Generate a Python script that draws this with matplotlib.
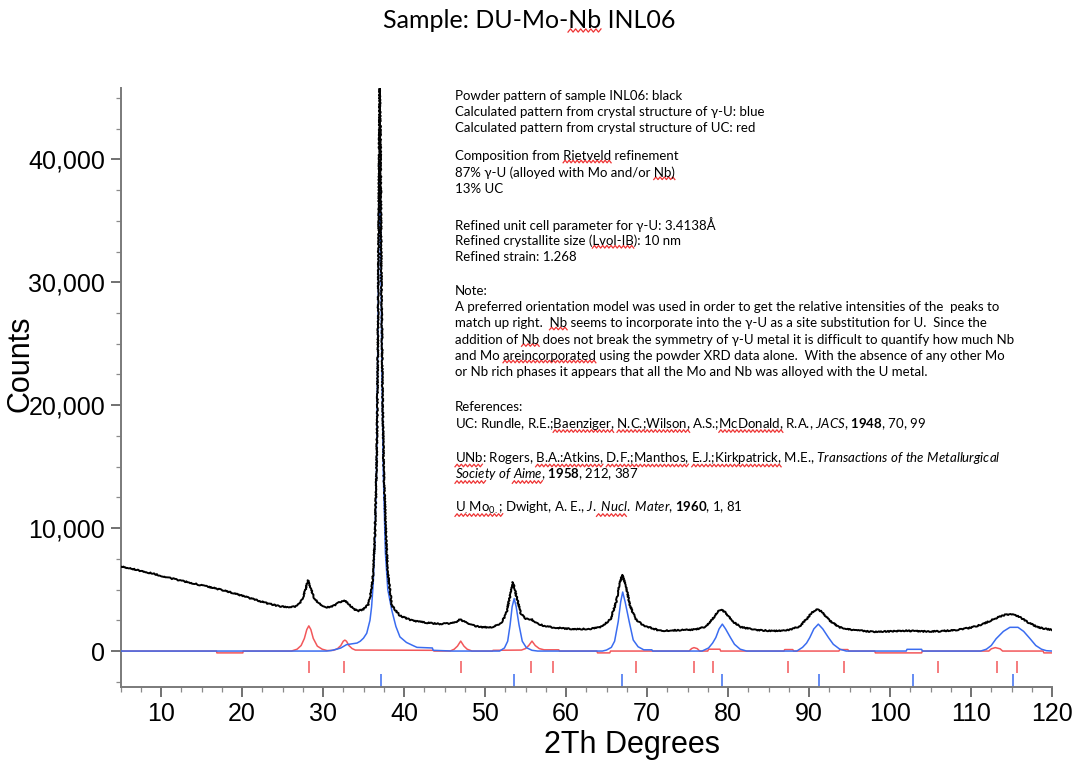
import numpy as np
import matplotlib
matplotlib.use("Agg")
import matplotlib.pyplot as plt
from matplotlib.ticker import FuncFormatter, MultipleLocator
from matplotlib.transforms import IdentityTransform
from matplotlib.lines import Line2D

# ---------------------------------------------------------------- data
# Observed powder pattern (2-theta in degrees, counts)
obs_tth = [5, 7, 9, 11, 13, 15, 17, 19, 21, 23, 24.6, 25.8, 26.8, 27.4, 27.8,
           28.15, 28.5, 28.9, 29.5, 30.5, 31.4, 32.0, 32.6, 33.2, 33.8, 34.4,
           35.0, 35.6, 36.0, 36.2, 36.4, 36.6, 36.7, 36.8, 36.9, 37.0, 37.1,
           37.2, 37.35, 37.5, 37.8, 38.0, 38.5, 39.5, 41.1, 42.8, 44.4, 45.8,
           46.5, 46.9, 47.4, 48.2, 49.4, 51.0, 52.0, 52.6, 53.0, 53.45, 53.9,
           54.4, 55.0, 55.7, 56.4, 57.5, 59.5, 61.3, 63.0, 64.5, 65.5, 66.2,
           66.6, 66.95, 67.4, 67.9, 68.6, 69.5, 71.6, 74.0, 76.0, 77.3, 78.1,
           78.7, 79.2, 79.8, 80.6, 81.6, 83.5, 85.6, 87.5, 88.8, 89.7, 90.4,
           90.9, 91.6, 92.5, 93.7, 95.5, 97.9, 100, 102, 104, 106, 108, 110,
           111.5, 113, 114.2, 114.9, 115.8, 117, 118.2, 119.2, 120]
obs_counts = [6900, 6600, 6300, 5950, 5650, 5350, 5050, 4700, 4300, 3900,
              3650, 3550, 3650, 4150, 4900, 5750, 5100, 4350, 3850, 3550,
              3700, 3950, 4150, 3800, 3400, 3270, 3400, 3800, 5000, 6400,
              9100, 14500, 19000, 27000, 38000, 45800, 42000, 31000, 21000,
              14500, 9100, 6400, 3700, 2870, 2460, 2300, 2200, 2250, 2400,
              2600, 2400, 2150, 1950, 1930, 2300, 3000, 4200, 5600, 4400,
              3100, 2600, 2600, 2250, 2000, 1850, 1780, 1800, 2000, 2600,
              4000, 5400, 6200, 5300, 3700, 2600, 2100, 1650, 1700, 1750,
              2000, 2600, 3200, 3400, 3050, 2400, 1950, 1700, 1640, 1700,
              2000, 2600, 3150, 3400, 3200, 2500, 1950, 1700, 1570, 1600,
              1650, 1600, 1600, 1700, 1900, 2200, 2650, 2950, 3000, 2850,
              2350, 1950, 1800, 1730]

# Calculated pattern, gamma-U phase
gu_tth = [5, 30.4, 31.0, 31.7, 32.2, 32.9, 33.5, 34.2, 34.6, 35.0, 35.4, 35.8,
          36.0, 36.2, 36.4, 36.6, 36.75, 36.9, 37.0, 37.1, 37.25, 37.45, 37.7,
          38.0, 38.5, 39.0, 39.5, 40.3, 41.1, 41.6, 43.5, 43.6, 46.0,
          51.8, 52.4, 52.8, 53.1, 53.35, 53.6, 53.85, 54.2, 54.6, 55.1, 55.8,
          56.5, 64.5, 65.0, 65.6, 66.0, 66.45, 66.75, 67.0, 67.3, 67.8, 68.3,
          68.9, 69.6, 70.6, 70.7, 76.8, 77.6, 78.1, 78.5, 78.9, 79.3, 79.7,
          80.3, 80.8, 81.5, 82.3, 88.5, 89.2, 89.7, 90.1, 90.6, 91.15, 91.7,
          92.4, 93.0, 93.8, 94.6, 102.0, 102.1, 103.9, 104.0, 111.2, 111.9,
          112.5, 113.1, 114.0, 114.8, 115.8, 116.5, 117.3, 118.0, 118.7,
          119.3, 120]
gu_counts = [0, 0, 40, 150, 250, 520, 580, 650, 800, 1050, 1450, 2500, 3600,
             5500, 9000, 14400, 24000, 34000, 39500, 36000, 24000, 14400,
             8000, 5000, 3300, 2000, 1150, 700, 450, 300, 250, 60, 0,
             0, 250, 800, 2130, 3600, 4270, 3600, 2130, 800, 280, 60,
             0, 0, 80, 300, 800, 2400, 4000, 4800, 4000, 2400, 900,
             350, 100, 100, 0, 0, 250, 650, 1100, 1800, 2190, 1800,
             1100, 550, 150, 0, 0, 300, 650, 1100, 1800, 2190, 1800,
             1100, 550, 150, 0, 0, 140, 140, 0, 0, 150,
             450, 1000, 1600, 1930, 1930, 1600, 1000, 450, 150,
             30, 0]

# Calculated pattern, UC phase
uc_tth = [5, 16.85, 16.9, 20.1, 20.15, 26.1, 26.8, 27.3, 27.7, 28.0, 28.25,
          28.5, 28.8, 29.3, 29.9, 30.5, 31.3, 31.8, 32.2, 32.5, 32.7, 32.9,
          33.2, 33.6, 34.0, 43.6, 43.7, 45.7, 46.2, 46.6, 47.0, 47.4, 47.8,
          48.4, 50.9, 51.0, 54.5, 55.0, 55.4, 55.8, 56.2, 56.7, 57.3, 59.1,
          59.2, 63.8, 63.9, 65.4, 65.5, 75.2, 75.5, 75.8, 76.2, 76.5, 77.5,
          77.6, 79.0, 79.1, 86.9, 87.0, 88.0, 88.1, 93.7, 93.8, 94.8, 94.9,
          98.1, 98.2, 103.9, 104.0, 112.2, 112.5, 113.0, 113.6, 113.9, 118.9,
          119.0, 120]
uc_counts = [0, 0, -150, -150, 0, 0, 150, 450, 1025, 1750, 2050,
             1750, 1025, 400, 150, 40, 60, 200, 445, 800, 890, 800,
             445, 200, 80, 60, 0, 0, 150, 400, 810, 400, 150,
             0, 0, 60, 80, 200, 450, 810, 450, 200, 100, 100,
             0, 0, -150, -150, 0, 0, 200, 280, 200, 0, 0,
             150, 150, 0, 0, 120, 120, 0, 0, 120, 120, 0,
             0, -150, -150, 0, 0, 180, 280, 180, 0, 0,
             -150, -150]

# Reflection positions
uc_reflections = [28.25, 32.6, 47.0, 55.7, 58.4, 68.6, 75.8, 78.2, 87.4,
                  94.3, 105.9, 113.2, 115.7]
gu_reflections = [37.1, 53.6, 66.9, 79.3, 91.2, 102.9, 115.2]

title_text = "Sample: DU-Mo-Nb INL06"
notes = [
    (95.5, "Powder pattern of sample INL06: black"),
    (111.5, "Calculated pattern from crystal structure of \u03b3-U: blue"),
    (128, "Calculated pattern from crystal structure of UC: red"),
    (156, "Composition from Rietveld refinement"),
    (172.5, "87% \u03b3-U (alloyed with Mo and/or Nb)"),
    (189, "13% UC"),
    (224.5, "Refined unit cell parameter for \u03b3-U: 3.4138\u00c5"),
    (241, "Refined crystallite size (Lvol-IB): 10 nm"),
    (257.5, "Refined strain: 1.268"),
    (290.5, "Note:"),
    (307, "A preferred orientation model was used in order to get the relative intensities of the  peaks to"),
    (323, "match up right.  Nb seems to incorporate into the \u03b3-U as a site substitution for U.  Since the"),
    (339.5, "addition of Nb does not break the symmetry of \u03b3-U metal it is difficult to quantify how much Nb"),
    (356, "and Mo areincorporated using the powder XRD data alone.  With the absence of any other Mo"),
    (372, "or Nb rich phases it appears that all the Mo and Nb was alloyed with the U metal."),
    (407, "References:"),
    (423.5, r"UC: Rundle, R.E.;Baenziger, N.C.;Wilson, A.S.;McDonald, R.A., $\mathit{JACS}$, $\mathbf{1948}$, 70, 99"),
    (458, r"UNb: Rogers, B.A.:Atkins, D.F.;Manthos, E.J.;Kirkpatrick, M.E., $\mathit{Transactions\ of\ the\ Metallurgical}$"),
    (474.5, r"$\mathit{Society\ of\ Aime}$, $\mathbf{1958}$, 212, 387"),
    (507.5, r"U$_{.}$M$\mathrm{o}_{0.}$; Dwight, A. E., $\mathit{J.\ Nucl.\ Mater}$, $\mathbf{1960}$, 1, 81"),
]

# words flagged by the spell checker: (line index, text before the word, word)
flagged = [
    (3, "Composition from ", "Rietveld"),
    (4, "87% \u03b3-U (alloyed with Mo and/or ", "Nb)"),
    (7, "Refined crystallite size (", "Lvol-IB"),
    (11, "match up right.  ", "Nb"),
    (12, "addition of ", "Nb"),
    (13, "and Mo ", "areincorporated"),
    (16, "UC: Rundle, R.E.;", "Baenziger,"),
    (16, "UC: Rundle, R.E.;Baenziger, ", "N.C.;Wilson,"),
    (16, "UC: Rundle, R.E.;Baenziger, N.C.;Wilson, A.S.;", "McDonald,"),
    (17, "", "UNb"),
    (17, "UNb: Rogers, ", "B.A.:Atkins,"),
    (17, "UNb: Rogers, B.A.:Atkins, ", "D.F.;Manthos,"),
    (17, "UNb: Rogers, B.A.:Atkins, D.F.;Manthos, ", "E.J.;Kirkpatrick,"),
    (18, "", r"$\mathit{Socie}$"),
    (18, r"$\mathit{Society\ of\ }$", r"$\mathit{Aime}$"),
    (19, "", r"U$_{.}$M$\mathrm{o}_{0.}$;"),
    (19, r"U$_{.}$M$\mathrm{o}_{0.}$; Dwight, A. E., $\mathit{J.\ }$", r"$\mathit{Nucl.}$"),
]

# ---------------------------------------------------------------- style
W, H = 1089, 763
plt.rcParams["mathtext.fontset"] = "custom"
plt.rcParams["mathtext.rm"] = "Lato"
plt.rcParams["mathtext.it"] = "Lato:italic"
plt.rcParams["mathtext.bf"] = "Lato:bold"
note_font = dict(fontsize=9.5, family=["Lato", "DejaVu Sans"])

fig = plt.figure(figsize=(W / 100, H / 100), dpi=100)
ax = fig.add_axes([120.5 / W, 1 - 686.7 / H, (1052 - 120.5) / W, (686.7 - 88) / H])

red = "#f2575a"
blue = "#3a6cf0"
ax.plot(uc_tth, uc_counts, color=red, lw=1.1, zorder=2)
ax.plot(gu_tth, gu_counts, color=blue, lw=1.1, zorder=3)
obs_line, = ax.plot(obs_tth, obs_counts, color="black", lw=1.4, zorder=4)
# slight wobble on the measured trace to show counting noise
obs_line.set_sketch_params(scale=0.6, length=1.6, randomness=4.0)

ax.vlines(uc_reflections, -1810, -790, color=red, lw=1.1)
ax.vlines(gu_reflections, -2900, -1870, color=blue, lw=1.1)

ax.set_xlim(5, 120)
ax.set_ylim(-2900, 45800)

ax.xaxis.set_major_locator(MultipleLocator(10))
ax.xaxis.set_minor_locator(MultipleLocator(2.5))
ax.yaxis.set_major_locator(MultipleLocator(10000))
ax.yaxis.set_minor_locator(MultipleLocator(2500))
ax.yaxis.set_major_formatter(FuncFormatter(lambda v, p: f"{v:,.0f}"))

for s in ("top", "right"):
    ax.spines[s].set_visible(False)
for s in ("left", "bottom"):
    ax.spines[s].set_color("#7a7a7a")
    ax.spines[s].set_linewidth(1.4)

ax.tick_params(which="major", direction="out", length=7, width=1.1,
               color="#4a4a4a", labelsize=18, pad=4)
ax.tick_params(which="minor", direction="out", length=3.5, width=0.9,
               color="#8a8a8a")
for lab in ax.get_xticklabels() + ax.get_yticklabels():
    lab.set_fontfamily("Liberation Sans")

fig.text(632 / W, 1 - 745 / H, "2Th Degrees", fontsize=22,
         family="Liberation Sans", ha="center", va="center")
fig.text(21 / W, 1 - 364 / H, "Counts", fontsize=22, rotation=90,
         family="Liberation Sans", ha="center", va="center")

title = fig.text(529 / W, 1 - 20 / H, title_text, fontsize=18,
                 family=["Lato", "DejaVu Sans"], ha="center", va="center")

note_texts = []
for ypix, line in notes:
    note_texts.append(fig.text(455 / W, 1 - ypix / H, line, ha="left",
                               va="center", **note_font))

# ---------------------------------------------------------------- squiggles
fig.canvas.draw()
renderer = fig.canvas.get_renderer()


def text_width(s, **props):
    if not s:
        return 0.0
    t = fig.text(0, 0, s, **props)
    w = t.get_window_extent(renderer).width
    t.remove()
    return w


def squiggle(x0, x1, y, amp=1.3, period=4.0):
    n = max(int((x1 - x0) / (period / 2)), 2)
    xs = np.linspace(x0, x1, n + 1)
    ys = y + amp * np.where(np.arange(n + 1) % 2 == 0, -1, 1)
    fig.add_artist(Line2D(xs, ys, transform=IdentityTransform(),
                          color="#ee3333", lw=0.9))


for idx, prefix, word in flagged:
    bb = note_texts[idx].get_window_extent(renderer)
    x0 = bb.x0 + text_width(prefix, **note_font)
    x1 = x0 + text_width(word, **note_font)
    squiggle(x0, x1, bb.y0 + 0.5)

# title word
tb = title.get_window_extent(renderer)
title_font = dict(fontsize=18, family=["Lato", "DejaVu Sans"])
tx0 = tb.x0 + text_width("Sample: DU-Mo-", **title_font)
tx1 = tx0 + text_width("Nb", **title_font)
squiggle(tx0, tx1, tb.y0 + 1.0, amp=1.6, period=5.0)

fig.savefig("out.png", dpi=100, facecolor="white")
